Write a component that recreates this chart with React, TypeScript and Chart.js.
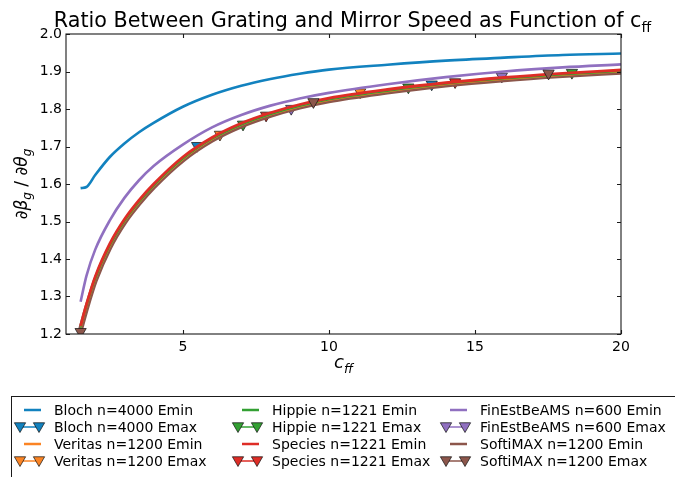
import React, { useEffect, useRef } from "react";
import { Chart, registerables } from "chart.js";

Chart.register(...registerables);

// ---- data ----
const cValues = [1.5, 1.7, 2, 2.5, 3, 3.5, 4, 5, 6, 7, 8, 9, 10, 12, 14, 16, 18, 20];

const blochEmin = [1.589, 1.592, 1.624, 1.672, 1.708, 1.738, 1.763, 1.806, 1.838, 1.862, 1.880, 1.894, 1.905, 1.918, 1.929, 1.937, 1.944, 1.948];
const veritasEmin = [1.213, 1.269, 1.343, 1.432, 1.498, 1.549, 1.593, 1.665, 1.718, 1.756, 1.784, 1.806, 1.823, 1.846, 1.865, 1.879, 1.890, 1.899];
const hippieEmin = [1.214, 1.270, 1.344, 1.433, 1.499, 1.550, 1.594, 1.666, 1.719, 1.757, 1.785, 1.807, 1.824, 1.847, 1.866, 1.880, 1.891, 1.900];
const speciesEmin = [1.222, 1.279, 1.353, 1.441, 1.506, 1.557, 1.600, 1.672, 1.724, 1.762, 1.790, 1.812, 1.829, 1.852, 1.870, 1.884, 1.895, 1.904];
const finestEmin = [1.286, 1.355, 1.425, 1.503, 1.563, 1.610, 1.648, 1.705, 1.751, 1.784, 1.809, 1.828, 1.843, 1.866, 1.885, 1.900, 1.911, 1.919];
const softimaxEmin = [1.212, 1.268, 1.342, 1.431, 1.497, 1.548, 1.592, 1.664, 1.717, 1.755, 1.783, 1.805, 1.822, 1.845, 1.864, 1.878, 1.889, 1.898];

const blochEmaxC = [5.49, 13.52];
const blochEmaxV = [1.702, 1.866];
const veritasEmaxC = [6.27, 11.07];
const veritasEmaxV = [1.732, 1.845];
const hippieEmaxC = [7.06, 12.72, 18.32];
const hippieEmaxV = [1.759, 1.858, 1.897];
const speciesEmaxC = [7.85, 14.32];
const speciesEmaxV = [1.783, 1.872];
const finestEmaxC = [8.71, 15.92];
const finestEmaxV = [1.801, 1.887];
const softimaxEmaxC = [1.5, 9.47, 17.52];
const softimaxEmaxV = [1.206, 1.819, 1.895];

const xTicks = [5, 10, 15, 20];
const yTicks = [1.2, 1.3, 1.4, 1.5, 1.6, 1.7, 1.8, 1.9, 2.0];

const labels = [
  "Bloch n=4000 Emin", "Bloch n=4000 Emax",
  "Veritas n=1200 Emin", "Veritas n=1200 Emax",
  "Hippie n=1221 Emin", "Hippie n=1221 Emax",
  "Species n=1221 Emin", "Species n=1221 Emax",
  "FinEstBeAMS n=600 Emin", "FinEstBeAMS n=600 Emax",
  "SoftiMAX n=1200 Emin", "SoftiMAX n=1200 Emax",
];

const colors = {
  blue: "#1282bf",
  orange: "#fb8424",
  green: "#33a033",
  red: "#de2d26",
  purple: "#9070c0",
  brown: "#8c564b",
};

const FONT = "'DejaVu Sans', sans-serif";

const pts = (xs: number[], ys: number[]) => xs.map((x, i) => ({ x, y: ys[i] }));

function lineDs(label: string, color: string, ys: number[], width: number, order: number) {
  return {
    label,
    data: pts(cValues, ys),
    borderColor: color,
    backgroundColor: color,
    borderWidth: width,
    pointRadius: 0,
    cubicInterpolationMode: "monotone",
    clip: 0,
    order,
    _kind: "line",
  };
}

function markerDs(label: string, color: string, xs: number[], ys: number[], order: number) {
  return {
    label,
    data: pts(xs, ys),
    borderColor: color,
    backgroundColor: color,
    showLine: false,
    pointStyle: "triangle",
    rotation: 180,
    pointRadius: 6.5,
    pointBackgroundColor: color,
    pointBorderColor: "rgba(20,20,20,0.9)",
    pointBorderWidth: 0.8,
    clip: 0,
    order,
    _kind: "marker",
  };
}

function drawTriangleDown(ctx: CanvasRenderingContext2D, x: number, y: number, r: number, color: string) {
  ctx.beginPath();
  for (let k = 0; k < 3; k++) {
    const a = Math.PI + (k * 2 * Math.PI) / 3;
    const px = x + Math.sin(a) * r;
    const py = y - Math.cos(a) * r;
    if (k === 0) ctx.moveTo(px, py);
    else ctx.lineTo(px, py);
  }
  ctx.closePath();
  ctx.fillStyle = color;
  ctx.fill();
  ctx.lineWidth = 0.8;
  ctx.strokeStyle = "rgba(20,20,20,0.9)";
  ctx.stroke();
}

const decorPlugin = {
  id: "decor",
  afterDraw(chart: any) {
    const ctx: CanvasRenderingContext2D = chart.ctx;
    const ca = chart.chartArea;
    const xs = chart.scales.x;
    const ys = chart.scales.y;
    ctx.save();

    // frame
    ctx.strokeStyle = "#1a1a1a";
    ctx.lineWidth = 1.1;
    ctx.strokeRect(ca.left, ca.top, ca.right - ca.left, ca.bottom - ca.top);

    // inward ticks
    ctx.beginPath();
    xTicks.forEach((v) => {
      const px = Math.round(xs.getPixelForValue(v)) + 0.5;
      ctx.moveTo(px, ca.bottom);
      ctx.lineTo(px, ca.bottom - 4);
      ctx.moveTo(px, ca.top);
      ctx.lineTo(px, ca.top + 4);
    });
    yTicks.forEach((v) => {
      const py = Math.round(ys.getPixelForValue(v)) + 0.5;
      ctx.moveTo(ca.left, py);
      ctx.lineTo(ca.left + 4, py);
      ctx.moveTo(ca.right, py);
      ctx.lineTo(ca.right - 4, py);
    });
    ctx.stroke();

    ctx.fillStyle = "#000";
    ctx.textBaseline = "alphabetic";
    ctx.textAlign = "left";

    // title
    const cx = (ca.left + ca.right) / 2;
    const tMain = "Ratio Between Grating and Mirror Speed as Function of c";
    const tSub = "ff";
    ctx.font = `20.7px ${FONT}`;
    const w1 = ctx.measureText(tMain).width;
    ctx.font = `14px ${FONT}`;
    const w2 = ctx.measureText(tSub).width;
    const tx = cx - (w1 + w2) / 2 + 9;
    ctx.font = `20.7px ${FONT}`;
    ctx.fillText(tMain, tx, 27);
    ctx.font = `14px ${FONT}`;
    ctx.fillText(tSub, tx + w1, 32);

    // x label c_ff
    ctx.font = `italic 18px ${FONT}`;
    const xc = ctx.measureText("c").width;
    ctx.font = `italic 12.5px ${FONT}`;
    const xff = ctx.measureText("ff").width;
    const xlx = cx - (xc + xff) / 2;
    ctx.font = `italic 18px ${FONT}`;
    ctx.fillText("c", xlx, 368);
    ctx.font = `italic 12.5px ${FONT}`;
    ctx.fillText("ff", xlx + xc, 373);

    // y label  ∂β_g / ∂θ_g
    const cy = (ca.top + ca.bottom) / 2;
    const parts: [string, string, number][] = [
      ["\u2202\u03B2", `italic 17px ${FONT}`, 0],
      ["g", `italic 12px ${FONT}`, 4],
      [" / ", `17px ${FONT}`, 0],
      ["\u2202\u03B8", `italic 17px ${FONT}`, 0],
      ["g", `italic 12px ${FONT}`, 4],
    ];
    let total = 0;
    const widths = parts.map(([t, f]) => {
      ctx.font = f;
      const w = ctx.measureText(t).width;
      total += w;
      return w;
    });
    ctx.save();
    ctx.translate(27, cy);
    ctx.rotate(-Math.PI / 2);
    let px = -total / 2;
    parts.forEach(([t, f, dy], i) => {
      ctx.font = f;
      ctx.fillText(t, px, dy);
      px += widths[i];
    });
    ctx.restore();

    // legend box
    ctx.strokeStyle = "#1a1a1a";
    ctx.lineWidth = 1;
    ctx.strokeRect(11.5, 396.5, 720, 120);

    const colText = [54, 272, 480];
    const rowY = [410, 427, 444, 461];
    ctx.font = `14px ${FONT}`;
    ctx.textBaseline = "middle";
    chart.data.datasets.forEach((ds: any, i: number) => {
      const col = Math.floor(i / 4);
      const row = i % 4;
      const tx0 = colText[col];
      const y = rowY[row];
      const x1 = tx0 - 34;
      const x2 = tx0 - 15;
      ctx.strokeStyle = ds.borderColor;
      ctx.lineWidth = ds._kind === "line" ? 2.5 : 1.5;
      ctx.beginPath();
      ctx.moveTo(ds._kind === "line" ? x1 + 4 : x1, y);
      ctx.lineTo(ds._kind === "line" ? x2 + 2 : x2, y);
      ctx.stroke();
      if (ds._kind === "marker") {
        drawTriangleDown(ctx, x1, y - 1, 6.5, ds.borderColor);
        drawTriangleDown(ctx, x2, y - 1, 6.5, ds.borderColor);
      }
      ctx.fillStyle = "#000";
      ctx.fillText(ds.label, tx0, y + 1);
    });

    ctx.restore();
  },
};

export default function App() {
  const ref = useRef<HTMLCanvasElement | null>(null);

  useEffect(() => {
    document.body.style.margin = "0";
    const canvas = ref.current;
    if (!canvas) return;

    // datasets kept in legend order; `order` controls drawing (higher = drawn first)
    const datasets: any[] = [
      lineDs(labels[0], colors.blue, blochEmin, 2.6, 12),
      markerDs(labels[1], colors.blue, blochEmaxC, blochEmaxV, 11),
      lineDs(labels[2], colors.orange, veritasEmin, 1.3, 5),
      markerDs(labels[3], colors.orange, veritasEmaxC, veritasEmaxV, 10),
      lineDs(labels[4], colors.green, hippieEmin, 1.1, 4),
      markerDs(labels[5], colors.green, hippieEmaxC, hippieEmaxV, 9),
      lineDs(labels[6], colors.red, speciesEmin, 2.8, 3),
      markerDs(labels[7], colors.red, speciesEmaxC, speciesEmaxV, 8),
      lineDs(labels[8], colors.purple, finestEmin, 2.6, 2),
      markerDs(labels[9], colors.purple, finestEmaxC, finestEmaxV, 7),
      lineDs(labels[10], colors.brown, softimaxEmin, 5, 6),
      markerDs(labels[11], colors.brown, softimaxEmaxC, softimaxEmaxV, 1),
    ];

    const chart = new Chart(canvas, {
      type: "line",
      data: { datasets },
      options: {
        animation: false,
        responsive: false,
        devicePixelRatio: 1,
        layout: { padding: { left: 0, right: 54, top: 34, bottom: 0 } },
        plugins: {
          legend: { display: false },
          tooltip: { enabled: false },
          title: { display: false },
        },
        scales: {
          x: {
            type: "linear",
            min: 1,
            max: 20,
            grid: { display: false, drawTicks: false },
            border: { display: false },
            afterBuildTicks: (s: any) => {
              s.ticks = xTicks.map((v) => ({ value: v }));
            },
            afterFit: (s: any) => {
              s.height = 143;
            },
            ticks: {
              color: "#000",
              font: { family: FONT, size: 14 },
              padding: 5,
              maxRotation: 0,
              autoSkip: false,
              callback: (v: any) => String(v),
            },
          },
          y: {
            type: "linear",
            min: 1.2,
            max: 2.0,
            grid: { display: false, drawTicks: false },
            border: { display: false },
            afterBuildTicks: (s: any) => {
              s.ticks = yTicks.map((v) => ({ value: v }));
            },
            afterFit: (s: any) => {
              s.width = 66;
            },
            ticks: {
              color: "#000",
              font: { family: FONT, size: 14 },
              padding: 4,
              autoSkip: false,
              callback: (v: any) => Number(v).toFixed(1),
            },
          },
        },
      },
      plugins: [decorPlugin],
    } as any);

    return () => chart.destroy();
  }, []);

  return (
    <div style={{ width: 675, height: 477, background: "#fff" }}>
      <canvas ref={ref} width={675} height={477} style={{ display: "block" }} />
    </div>
  );
}
